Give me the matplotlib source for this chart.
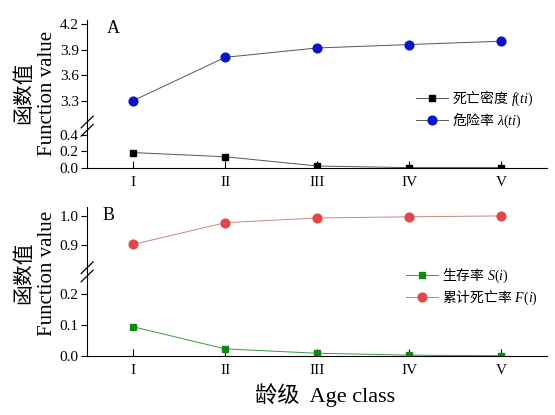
import matplotlib
matplotlib.use("Agg")
import matplotlib.pyplot as plt

plt.rcParams['font.family'] = ['Liberation Serif', 'Noto Sans CJK SC']
plt.rcParams['mathtext.fontset'] = 'custom'
plt.rcParams['mathtext.rm'] = 'Noto Sans CJK SC'
plt.rcParams['mathtext.it'] = 'Liberation Serif:italic'

age_classes = ['I', 'II', 'III', 'IV', 'V']
x_pos = [1, 2, 3, 4, 5]

# panel A
density_f = [0.185, 0.135, 0.025, 0.005, 0.005]
hazard_lambda = [3.30, 3.81, 3.92, 3.96, 4.00]
# panel B
survival_s = [0.094, 0.023, 0.009, 0.003, 0.001]
cum_mortality_f = [0.903, 0.977, 0.993, 0.997, 1.000]


def broken_panel(fig, box_top, box_low, lo, hi, lo_lim, hi_lim, lo_ticks, hi_ticks,
                 lo_style, hi_style, letter, letter_x, leg_anchor):
    left, width = 0.157, 0.829
    ax_hi = fig.add_axes([left, box_top[0], width, box_top[1]])
    ax_lo = fig.add_axes([left, box_low[0], width, box_low[1]])

    for ax in (ax_hi, ax_lo):
        ax.set_xlim(0.5, 5.5)
        ax.spines['top'].set_visible(False)
        ax.spines['right'].set_visible(False)
        ax.tick_params(axis='y', direction='out', length=4, labelsize=11, pad=2)
        ax.patch.set_alpha(0)
    ax_hi.spines['bottom'].set_visible(False)
    ax_hi.tick_params(axis='x', bottom=False, labelbottom=False)
    ax_lo.tick_params(axis='x', direction='in', length=5, labelsize=11, pad=6)
    ax_lo.set_xticks(x_pos)
    ax_lo.set_xticklabels(age_classes)

    l1, = ax_lo.plot(x_pos, lo, **lo_style)
    l2, = ax_hi.plot(x_pos, hi, **hi_style)
    ax_lo.set_ylim(*lo_lim)
    ax_hi.set_ylim(*hi_lim)
    ax_lo.set_yticks(lo_ticks)
    ax_hi.set_yticks(hi_ticks)
    ax_lo.set_yticklabels(['%.1f' % t for t in lo_ticks])
    ax_hi.set_yticklabels(['%.1f' % t for t in hi_ticks])

    # break marks
    kw = dict(transform=ax_lo.transAxes, color='black', lw=0.9, clip_on=False)
    h = box_low[1]
    for dy in (-0.01, 0.01):
        ax_lo.plot([-0.013, 0.013], [1 + (dy - 0.014) / h, 1 + (dy + 0.014) / h], **kw)

    ax_hi.text(letter_x, 1.0, letter, transform=ax_hi.transAxes, fontsize=13,
               va='top', ha='left')
    fig.legend([l1, l2], [lo_style['label'], hi_style['label']],
               loc='upper left', bbox_to_anchor=leg_anchor, frameon=False,
               fontsize=10, handlelength=2.3, handletextpad=0.3,
               labelspacing=0.25, borderaxespad=0)
    return ax_hi, ax_lo


fig = plt.figure(figsize=(5.55, 4.15), dpi=100)

broken_panel(
    fig, (0.696, 0.256), (0.595, 0.101),
    density_f, hazard_lambda, (0, 0.5), (3.0, 4.25),
    [0.0, 0.2, 0.4], [3.3, 3.6, 3.9, 4.2],
    dict(color='#555555', lw=0.7, marker='s', ms=5, mfc='black', mec='black',
         label='$\\mathrm{死亡密度}$ $f$($ti$)'),
    dict(color='#555555', lw=0.7, marker='o', ms=6.3, mfc='#0a14c8', mec='#0a14c8',
         label='$\\mathrm{危险率}$ $\\lambda$($ti$)'),
    'A', 0.043, (0.74, 0.8))

broken_panel(
    fig, (0.345, 0.156), (0.142, 0.203),
    survival_s, cum_mortality_f, (0, 0.27), (0.81, 1.03),
    [0.0, 0.1, 0.2], [0.9, 1.0],
    dict(color='#3a9a3a', lw=0.7, marker='s', ms=5, mfc='#118811', mec='#118811',
         label='$\\mathrm{生存率}$ $S$($i$)'),
    dict(color='#d08080', lw=0.7, marker='o', ms=6.3, mfc='#e04848', mec='#e04848',
         label='$\\mathrm{累计死亡率}$ $F$($i$)'),
    'B', 0.033, (0.722, 0.37))

for yc in (0.776, 0.342):
    fig.text(0.041, yc, '函数值', rotation=90, ha='center', va='center',
             fontsize=15, family=['Noto Sans CJK SC'])
    fig.text(0.086, yc, 'Function value', rotation=90, ha='center', va='center',
             fontsize=15)

fig.text(0.586, 0.047, '龄级  Age class', ha='center', va='center', fontsize=16)

fig.savefig('out.png', dpi=100)
